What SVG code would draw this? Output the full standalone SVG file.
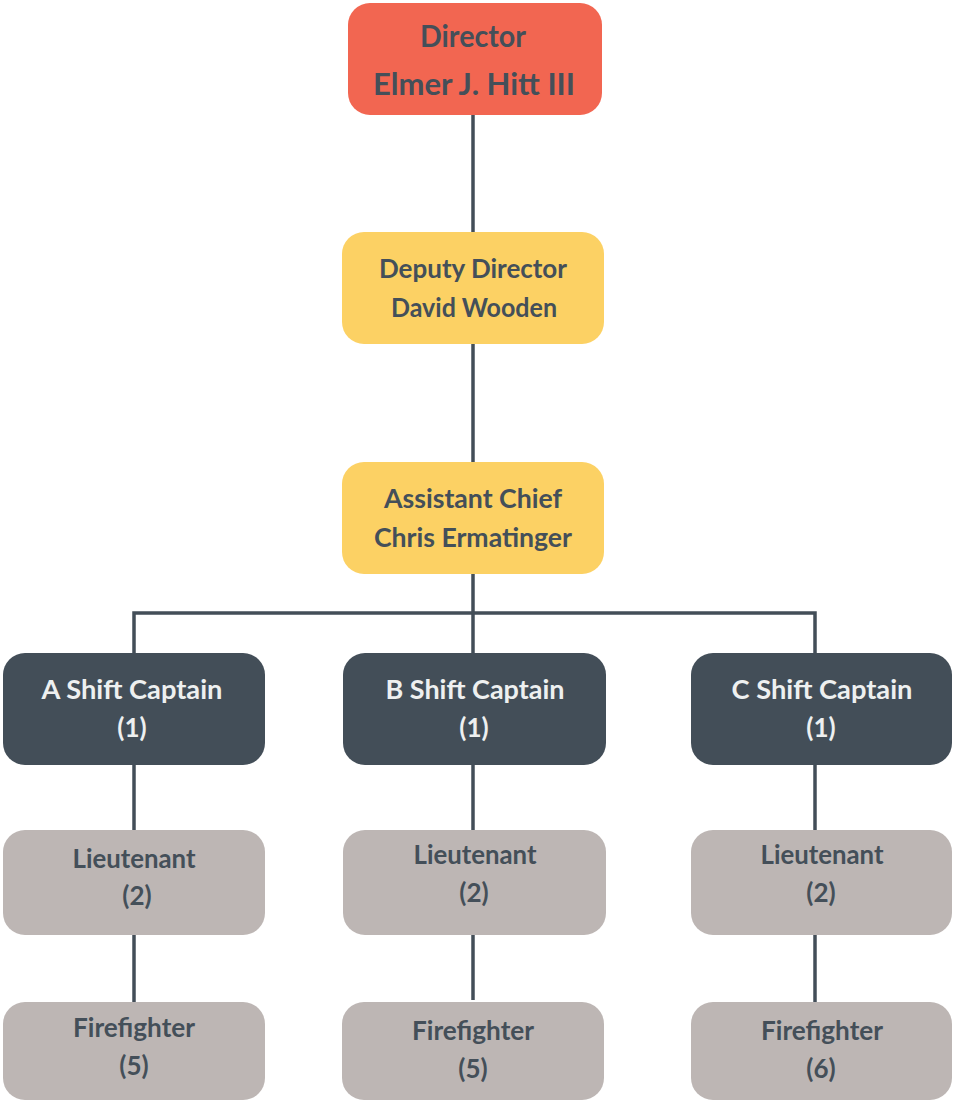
<svg xmlns="http://www.w3.org/2000/svg" width="953" height="1102" viewBox="0 0 953 1102">
<style>
.t{font-family:Lato,"Open Sans","Liberation Sans",sans-serif;font-weight:700;text-anchor:middle;fill:#444f59}
.w{fill:#eef0f0}
.red{fill:#f26651}
.yel{fill:#fcd164}
.dark{fill:#434e58}
.gray{fill:#bdb6b4}
.c{stroke:#434e58;stroke-width:3.5;fill:none}
</style>
<g id="connectors">
<line class="c" x1="473" y1="115" x2="473" y2="232"/>
<line class="c" x1="473" y1="344" x2="473" y2="462"/>
<line class="c" x1="473" y1="574" x2="473" y2="653"/>
<polyline class="c" points="134,653 134,613 815,613 815,653"/>
<line class="c" x1="134" y1="765" x2="134" y2="830"/>
<line class="c" x1="134" y1="935" x2="134" y2="1002"/>
<line class="c" x1="473" y1="765" x2="473" y2="830"/>
<line class="c" x1="473" y1="935" x2="473" y2="1000"/>
<line class="c" x1="815" y1="765" x2="815" y2="830"/>
<line class="c" x1="815" y1="935" x2="815" y2="1002"/>
</g>
<g id="director">
<rect class="red" x="348" y="3" width="254" height="112" rx="22"/>
<text class="t" x="473" y="47" font-size="31" textLength="106" lengthAdjust="spacingAndGlyphs">Director</text>
<text class="t" x="474" y="95" font-size="31" textLength="202" lengthAdjust="spacingAndGlyphs">Elmer J. Hitt III</text>
</g>
<g id="deputy">
<rect class="yel" x="342" y="232" width="262" height="112" rx="22"/>
<text class="t" x="473" y="278" font-size="27" textLength="188" lengthAdjust="spacingAndGlyphs">Deputy Director</text>
<text class="t" x="474" y="317" font-size="27" textLength="166" lengthAdjust="spacingAndGlyphs">David Wooden</text>
</g>
<g id="assistant">
<rect class="yel" x="342" y="462" width="262" height="112" rx="22"/>
<text class="t" x="473" y="508" font-size="27" textLength="178" lengthAdjust="spacingAndGlyphs">Assistant Chief</text>
<text class="t" x="473" y="547" font-size="27" textLength="198" lengthAdjust="spacingAndGlyphs">Chris Ermatinger</text>
</g>
<g id="captainA">
<rect class="dark" x="3" y="653" width="262" height="112" rx="22"/>
<text class="t w" x="132" y="699" font-size="26" textLength="181" lengthAdjust="spacingAndGlyphs">A Shift Captain</text>
<text class="t w" x="132" y="737" font-size="26">(1)</text>
</g>
<g id="captainB">
<rect class="dark" x="343" y="653" width="263" height="112" rx="22"/>
<text class="t w" x="475" y="699" font-size="26" textLength="179" lengthAdjust="spacingAndGlyphs">B Shift Captain</text>
<text class="t w" x="474" y="737" font-size="26">(1)</text>
</g>
<g id="captainC">
<rect class="dark" x="691" y="653" width="261" height="112" rx="22"/>
<text class="t w" x="822" y="699" font-size="26" textLength="181" lengthAdjust="spacingAndGlyphs">C Shift Captain</text>
<text class="t w" x="821" y="737" font-size="26">(1)</text>
</g>
<g id="lieutenantA">
<rect class="gray" x="3" y="830" width="262" height="105" rx="22"/>
<text class="t" x="134" y="868" font-size="26" textLength="123" lengthAdjust="spacingAndGlyphs">Lieutenant</text>
<text class="t" x="137" y="905" font-size="26">(2)</text>
</g>
<g id="lieutenantB">
<rect class="gray" x="343" y="830" width="263" height="105" rx="22"/>
<text class="t" x="475" y="864" font-size="26" textLength="123" lengthAdjust="spacingAndGlyphs">Lieutenant</text>
<text class="t" x="474" y="902" font-size="26">(2)</text>
</g>
<g id="lieutenantC">
<rect class="gray" x="691" y="830" width="261" height="105" rx="22"/>
<text class="t" x="822" y="864" font-size="26" textLength="123" lengthAdjust="spacingAndGlyphs">Lieutenant</text>
<text class="t" x="821" y="902" font-size="26">(2)</text>
</g>
<g id="firefighterA">
<rect class="gray" x="3" y="1002" width="262" height="98" rx="22"/>
<text class="t" x="134" y="1037" font-size="26" textLength="122" lengthAdjust="spacingAndGlyphs">Firefighter</text>
<text class="t" x="134" y="1075" font-size="26">(5)</text>
</g>
<g id="firefighterB">
<rect class="gray" x="342" y="1002" width="262" height="98" rx="22"/>
<text class="t" x="473" y="1040" font-size="26" textLength="122" lengthAdjust="spacingAndGlyphs">Firefighter</text>
<text class="t" x="473" y="1078" font-size="26">(5)</text>
</g>
<g id="firefighterC">
<rect class="gray" x="691" y="1002" width="261" height="98" rx="22"/>
<text class="t" x="822" y="1040" font-size="26" textLength="122" lengthAdjust="spacingAndGlyphs">Firefighter</text>
<text class="t" x="821" y="1078" font-size="26">(6)</text>
</g>
</svg>
